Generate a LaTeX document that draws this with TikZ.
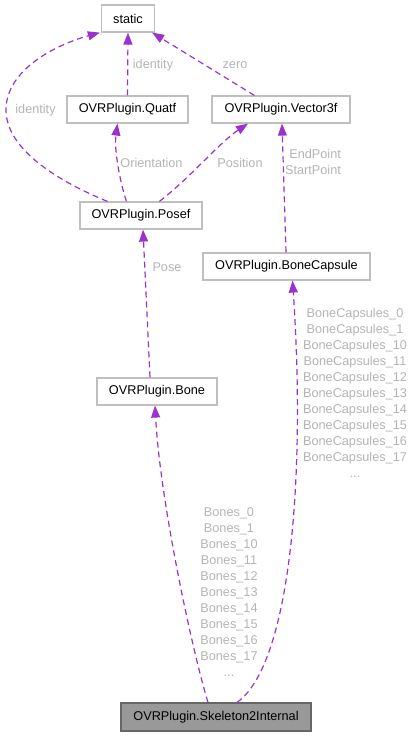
\documentclass[tikz,border=0pt]{standalone}
\usepackage{fontspec}
\setmainfont{Liberation Sans}
\usetikzlibrary{arrows.meta}
\definecolor{edgec}{HTML}{9A32CD}
\definecolor{labc}{HTML}{B4B4B4}
\definecolor{boxc}{HTML}{BFBFBF}
\begin{document}
\begin{tikzpicture}[x=1pt,y=-1pt,
  cls/.style={draw=boxc,line width=1.2pt,fill=white,minimum height=27pt,inner sep=0pt,font=\fontsize{12.7}{16}\selectfont,text=black},
  main/.style={cls,fill=black!40,draw=black!60},
  rel/.style={draw=edgec,line width=1.2pt,dash pattern=on 6pt off 4pt,-{Triangle[length=12pt,width=9pt]}},
  lab/.style={text=labc,font=\fontsize{12.7}{16}\selectfont,align=center,inner sep=0pt}]
\useasboundingbox (0,0) rectangle (413,736);
\node[cls,minimum width=53pt] (static) at (128,18.5) {static};
\node[cls,minimum width=121pt] (quatf) at (127.5,109.5) {OVRPlugin.Quatf};
\node[cls,minimum width=138pt] (vec) at (281,109.5) {OVRPlugin.Vector3f};
\node[cls,minimum width=122pt] (posef) at (141,215.5) {OVRPlugin.Posef};
\node[cls,minimum width=167pt] (cap) at (286.5,266.5) {OVRPlugin.BoneCapsule};
\node[cls,minimum width=120pt] (bone) at (157,391.5) {OVRPlugin.Bone};
\node[main,minimum width=190pt,minimum height=28pt] (skel) at (216,717) {OVRPlugin.Skeleton2Internal};
% edges
\draw[rel] (quatf.north) -- (static.south);
\draw[rel] ([xshift=43pt]vec.north west) -- ([xshift=-3pt]static.south east);
\draw[rel] ([xshift=28pt]posef.north west) .. controls (60,182) and (6,150) .. (6,110) .. controls (6,70) and (55,45) .. ([xshift=-1pt]static.south west);
\draw[rel] ([xshift=47pt]posef.north west) .. controls (120,182) and (114,150) .. ([xshift=-10pt]quatf.south);
\draw[rel] ([xshift=80pt]posef.north west) .. controls (190,178) and (220,142) .. ([xshift=-33pt]vec.south);
\draw[rel] ([xshift=-0.5pt]cap.north) -- ([xshift=1pt]vec.south);
\draw[rel] ([xshift=-7pt]bone.north) -- ([xshift=2pt]posef.south);
\draw[rel] ([xshift=-8pt]skel.north) .. controls (192,650) and (160,500) .. ([xshift=-2pt]bone.south);
\draw[rel] ([xshift=21pt]skel.north) .. controls (290,665) and (306,480) .. ([xshift=6pt]cap.south);
% labels
\node[lab] (l1) at (35.5,110) {identity};
\node[lab] (l2) at (153,65) {identity};
\node[lab] (l3) at (235,65) {zero};
\node[lab] (l4) at (151.5,163) {Orientation};
\node[lab] (l5) at (240,163) {Position};
\node[lab,align=right] (l6) at (313,162) {EndPoint\\StartPoint};
\node[lab] (l7) at (167,267) {Pose};
\node[lab] (l8) at (355,393) {BoneCapsules\_0\\BoneCapsules\_1\\BoneCapsules\_10\\BoneCapsules\_11\\BoneCapsules\_12\\BoneCapsules\_13\\BoneCapsules\_14\\BoneCapsules\_15\\BoneCapsules\_16\\BoneCapsules\_17\\...};
\node[lab] (l9) at (229,592) {Bones\_0\\Bones\_1\\Bones\_10\\Bones\_11\\Bones\_12\\Bones\_13\\Bones\_14\\Bones\_15\\Bones\_16\\Bones\_17\\...};
\end{tikzpicture}
\end{document}
